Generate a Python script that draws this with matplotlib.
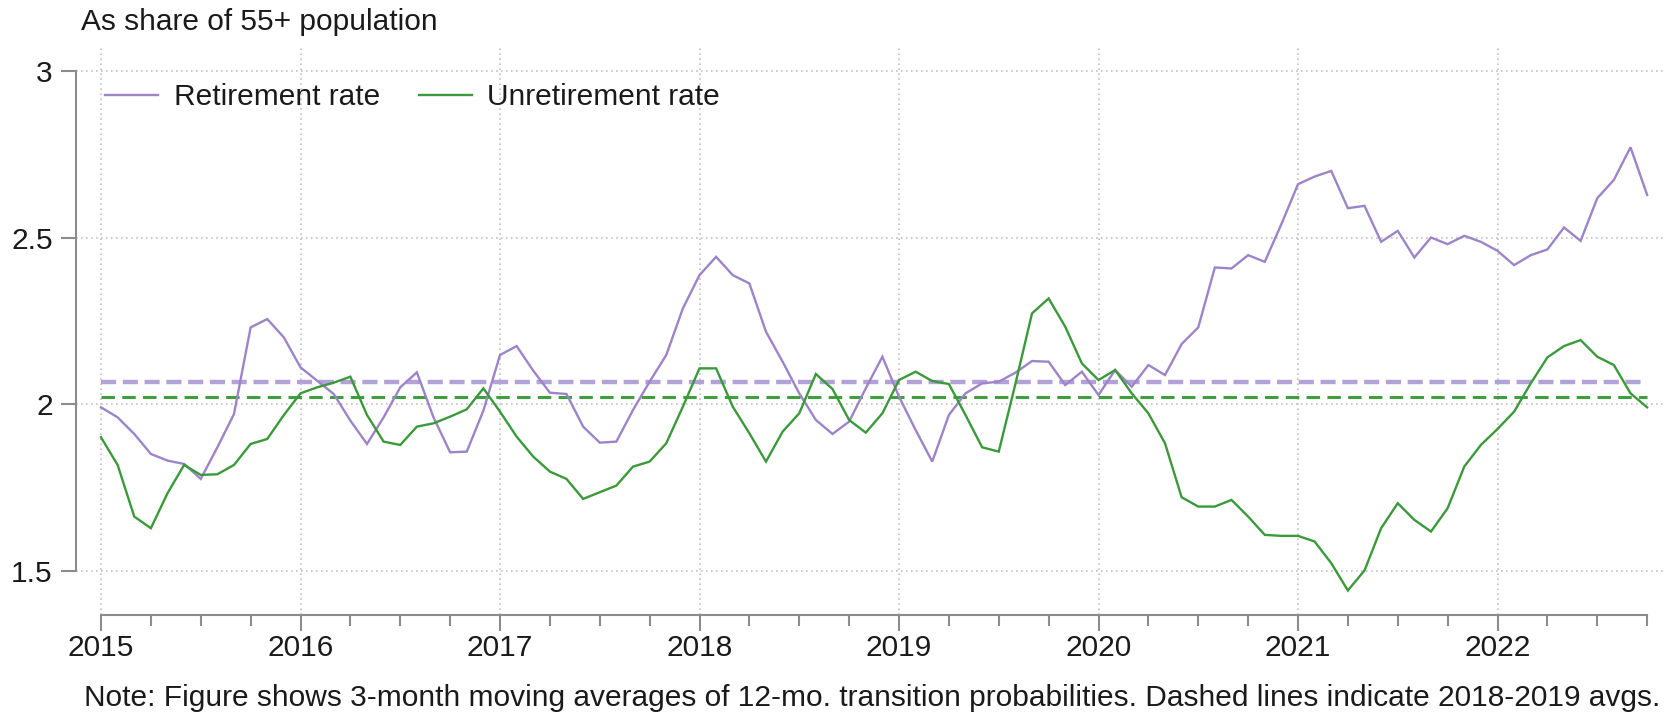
import matplotlib
matplotlib.use("Agg")
import matplotlib.pyplot as plt
import numpy as np
from matplotlib.ticker import FixedLocator, MultipleLocator

# ---- data (monthly, Jan 2015 - Oct 2022), % of 55+ population ----
start_year = 2015
retirement = [
    1.99, 1.96, 1.91, 1.85, 1.83, 1.82, 1.775, 1.87, 1.97, 2.23, 2.255, 2.20,
    2.11, 2.07, 2.03, 1.95, 1.88, 1.96, 2.05, 2.095, 1.96, 1.855, 1.857, 1.98,
    2.147, 2.174, 2.10, 2.034, 2.03, 1.932, 1.884, 1.887, 1.982, 2.067, 2.147, 2.287,
    2.387, 2.442, 2.387, 2.362, 2.217, 2.127, 2.032, 1.952, 1.91, 1.947, 2.047, 2.142,
    2.022, 1.922, 1.827, 1.967, 2.032, 2.062, 2.067, 2.094, 2.129, 2.127, 2.057, 2.097,
    2.027, 2.102, 2.052, 2.117, 2.087, 2.18, 2.23, 2.41, 2.407, 2.447, 2.427, 2.54,
    2.66, 2.683, 2.70, 2.588, 2.595, 2.487, 2.52, 2.44, 2.50, 2.48, 2.505, 2.487,
    2.46, 2.417, 2.447, 2.464, 2.53, 2.49, 2.618, 2.673, 2.771, 2.628,
]
unretirement = [
    1.90, 1.817, 1.662, 1.627, 1.732, 1.817, 1.787, 1.789, 1.817, 1.88, 1.895, 1.967,
    2.032, 2.05, 2.064, 2.082, 1.967, 1.887, 1.877, 1.932, 1.942, 1.962, 1.984, 2.047,
    1.977, 1.902, 1.842, 1.797, 1.775, 1.715, 1.735, 1.755, 1.812, 1.827, 1.882, 1.992,
    2.107, 2.107, 1.992, 1.912, 1.827, 1.917, 1.972, 2.09, 2.045, 1.952, 1.914, 1.972,
    2.072, 2.097, 2.069, 2.06, 1.967, 1.87, 1.857, 2.06, 2.272, 2.317, 2.232, 2.122,
    2.072, 2.102, 2.032, 1.972, 1.882, 1.72, 1.692, 1.692, 1.712, 1.662, 1.607, 1.604,
    1.604, 1.587, 1.522, 1.44, 1.50, 1.627, 1.702, 1.652, 1.617, 1.687, 1.812, 1.877,
    1.925, 1.977, 2.062, 2.14, 2.174, 2.192, 2.142, 2.117, 2.032, 1.99,
]
avg_retirement = 2.067     # 2018-2019 average
avg_unretirement = 2.022   # 2018-2019 average

series_labels = ["Retirement rate", "Unretirement rate"]
y_ticks = [1.5, 2, 2.5, 3]
y_ticklabels = ["1.5", "2", "2.5", "3"]
x_years = list(range(2015, 2024))
title_text = "As share of 55+ population"
note_text = ("Note: Figure shows 3-month moving averages of 12-mo. transition "
             "probabilities. Dashed lines indicate 2018-2019 avgs.")

# ---- styling ----
plt.rcParams["font.family"] = ["Liberation Sans", "DejaVu Sans"]
FS = 21.5
TXT = "#1a1a1a"
AXC = "#8c8c8c"
PURPLE = "#9d84c9"
PURPLE_D = "#b3a2d8"
GREEN = "#3a9a3a"
GREEN_D = "#3f9f3f"

W, H = 1665, 715
fig = plt.figure(figsize=(W / 100, H / 100), dpi=100)
ax = fig.add_axes([76 / W, 100 / H, 1621 / W, 567 / H])

dates = start_year + np.arange(len(retirement)) / 12.0

l1, = ax.plot(dates, retirement, color=PURPLE, lw=1.7, solid_joinstyle="miter", zorder=4)
l2, = ax.plot(dates, unretirement, color=GREEN, lw=1.7, solid_joinstyle="miter", zorder=4)
ax.plot([dates[0], dates[-1]], [avg_retirement] * 2, color=PURPLE_D, lw=3.2,
        dashes=(3.4, 1.5), zorder=3)
ax.plot([dates[0], dates[-1]], [avg_unretirement] * 2, color=GREEN_D, lw=2.2,
        dashes=(4.4, 2.4), zorder=3)

ax.set_xlim(2015 - 25 / 199.5, 2023)
ax.set_ylim(2 - 211 / 333, 2 + 356 / 333)

ax.xaxis.set_major_locator(FixedLocator(x_years))
ax.set_xticklabels([str(y) for y in x_years])
ax.xaxis.set_minor_locator(MultipleLocator(0.25))
ax.yaxis.set_major_locator(FixedLocator(y_ticks))
ax.set_yticklabels(y_ticklabels)

ax.grid(True, which="major", color="#c2c2c2", lw=1.2, linestyle=(0, (1, 2.0)), zorder=1)

for s in ["top", "right"]:
    ax.spines[s].set_visible(False)
for s in ["left", "bottom"]:
    ax.spines[s].set_color(AXC)
    ax.spines[s].set_linewidth(1.5)
ax.spines["left"].set_bounds(1.5, 3)
ax.spines["bottom"].set_bounds(2015, 2022.75)

ax.tick_params(axis="y", which="major", length=10.8, width=1.5, color=AXC,
               labelsize=FS, labelcolor=TXT, pad=6)
ax.tick_params(axis="x", which="major", length=11.5, width=1.5, color=AXC,
               labelsize=FS, labelcolor=TXT, pad=2)
ax.tick_params(axis="x", which="minor", length=8, width=1.5, color=AXC)

leg = ax.legend([l1, l2], series_labels, ncol=2, loc="center left",
                bbox_to_anchor=(105 / W, 1 - 97 / H), bbox_transform=fig.transFigure,
                frameon=False, fontsize=FS, handlelength=1.77, handletextpad=0.53,
                columnspacing=1.3, borderpad=0, borderaxespad=0)
for t in leg.get_texts():
    t.set_color(TXT)

fig.text(81 / W, 1 - 30 / H, title_text, fontsize=FS, color=TXT, ha="left", va="baseline")
fig.text(84 / W, 1 - 706 / H, note_text, fontsize=FS, color=TXT, ha="left", va="baseline")

fig.savefig("out.png", dpi=100, facecolor="white")
